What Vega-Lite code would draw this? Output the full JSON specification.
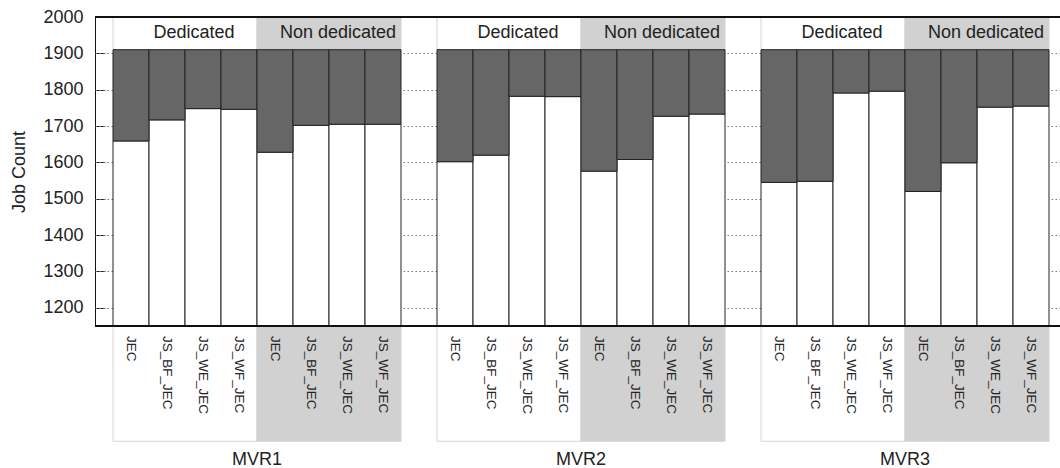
{
  "$schema": "https://vega.github.io/schema/vega-lite/v6.json",
  "padding": {"left": 10, "top": 8, "right": 0, "bottom": 0},
  "bounds": "flush",
  "background": "white",
  "data": {
    "values": [
      {"mvr": "MVR1", "type": "Dedicated", "algo": "JEC", "completed": 1659, "submitted": 1910},
      {"mvr": "MVR1", "type": "Dedicated", "algo": "JS_BF_JEC", "completed": 1717, "submitted": 1910},
      {"mvr": "MVR1", "type": "Dedicated", "algo": "JS_WE_JEC", "completed": 1748, "submitted": 1910},
      {"mvr": "MVR1", "type": "Dedicated", "algo": "JS_WF_JEC", "completed": 1746, "submitted": 1910},
      {"mvr": "MVR1", "type": "Non dedicated", "algo": "JEC", "completed": 1628, "submitted": 1910},
      {"mvr": "MVR1", "type": "Non dedicated", "algo": "JS_BF_JEC", "completed": 1702, "submitted": 1910},
      {"mvr": "MVR1", "type": "Non dedicated", "algo": "JS_WE_JEC", "completed": 1705, "submitted": 1910},
      {"mvr": "MVR1", "type": "Non dedicated", "algo": "JS_WF_JEC", "completed": 1705, "submitted": 1910},
      {"mvr": "MVR2", "type": "Dedicated", "algo": "JEC", "completed": 1602, "submitted": 1910},
      {"mvr": "MVR2", "type": "Dedicated", "algo": "JS_BF_JEC", "completed": 1620, "submitted": 1910},
      {"mvr": "MVR2", "type": "Dedicated", "algo": "JS_WE_JEC", "completed": 1782, "submitted": 1910},
      {"mvr": "MVR2", "type": "Dedicated", "algo": "JS_WF_JEC", "completed": 1781, "submitted": 1910},
      {"mvr": "MVR2", "type": "Non dedicated", "algo": "JEC", "completed": 1576, "submitted": 1910},
      {"mvr": "MVR2", "type": "Non dedicated", "algo": "JS_BF_JEC", "completed": 1608, "submitted": 1910},
      {"mvr": "MVR2", "type": "Non dedicated", "algo": "JS_WE_JEC", "completed": 1727, "submitted": 1910},
      {"mvr": "MVR2", "type": "Non dedicated", "algo": "JS_WF_JEC", "completed": 1733, "submitted": 1910},
      {"mvr": "MVR3", "type": "Dedicated", "algo": "JEC", "completed": 1545, "submitted": 1910},
      {"mvr": "MVR3", "type": "Dedicated", "algo": "JS_BF_JEC", "completed": 1548, "submitted": 1910},
      {"mvr": "MVR3", "type": "Dedicated", "algo": "JS_WE_JEC", "completed": 1791, "submitted": 1910},
      {"mvr": "MVR3", "type": "Dedicated", "algo": "JS_WF_JEC", "completed": 1796, "submitted": 1910},
      {"mvr": "MVR3", "type": "Non dedicated", "algo": "JEC", "completed": 1520, "submitted": 1910},
      {"mvr": "MVR3", "type": "Non dedicated", "algo": "JS_BF_JEC", "completed": 1599, "submitted": 1910},
      {"mvr": "MVR3", "type": "Non dedicated", "algo": "JS_WE_JEC", "completed": 1752, "submitted": 1910},
      {"mvr": "MVR3", "type": "Non dedicated", "algo": "JS_WF_JEC", "completed": 1755, "submitted": 1910}
    ]
  },
  "facet": {
    "column": {
      "field": "mvr",
      "type": "nominal",
      "header": {
        "title": null,
        "labelOrient": "bottom",
        "labelFont": "Liberation Sans",
        "labelFontSize": 18,
        "labelColor": "#222222",
        "labelPadding": 125
      }
    }
  },
  "spacing": 0,
  "spec": {
    "width": 324,
    "height": 309,
    "layer": [
      {
        "description": "Shaded strip above the bars naming the machine type",
        "transform": [{"aggregate": [{"op": "count", "as": "n"}], "groupby": ["type"]}],
        "mark": {"type": "bar", "strokeWidth": 1},
        "encoding": {
          "x": {"field": "type", "type": "nominal", "sort": ["Dedicated", "Non dedicated"], "scale": {"type": "band", "paddingInner": 0, "paddingOuter": 0.125}, "axis": null},
          "y": {"datum": 1910, "scale": {"domain": [1150, 2000], "zero": false, "nice": false}},
          "y2": {"datum": 2000},
          "fill": {"field": "type", "type": "nominal", "scale": {"domain": ["Dedicated", "Non dedicated"], "range": ["#ffffff", "#d0d1d0"]}, "legend": null},
          "stroke": {"field": "type", "type": "nominal", "scale": {"domain": ["Dedicated", "Non dedicated"], "range": ["#d6d6d6", "#d0d1d0"]}, "legend": null}
        }
      },
      {
        "description": "Shaded strip below the axis behind the scheduler labels",
        "transform": [{"aggregate": [{"op": "count", "as": "n"}], "groupby": ["type"]}],
        "mark": {"type": "bar", "strokeWidth": 1},
        "encoding": {
          "x": {"field": "type", "type": "nominal", "sort": ["Dedicated", "Non dedicated"], "scale": {"type": "band", "paddingInner": 0, "paddingOuter": 0.125}, "axis": null},
          "y": {"datum": 1150},
          "y2": {"datum": 833},
          "fill": {"field": "type", "type": "nominal", "scale": {"domain": ["Dedicated", "Non dedicated"], "range": ["#ffffff", "#d0d1d0"]}, "legend": null},
          "stroke": {"field": "type", "type": "nominal", "scale": {"domain": ["Dedicated", "Non dedicated"], "range": ["#d6d6d6", "#d0d1d0"]}, "legend": null}
        }
      },
      {
        "description": "Completed jobs",
        "mark": {"type": "bar", "fill": "#ffffff", "stroke": "#222222", "strokeWidth": 1},
        "encoding": {
          "x": {"field": "type", "type": "nominal", "sort": ["Dedicated", "Non dedicated"], "scale": {"type": "band", "paddingInner": 0, "paddingOuter": 0.125}, "axis": null},
          "xOffset": {"field": "algo", "type": "nominal", "scale": {"paddingInner": 0, "paddingOuter": 0}},
          "y": {"field": "completed", "type": "quantitative", "title": "Job Count", "scale": {"domain": [1150, 2000], "zero": false, "nice": false}},
          "y2": {"datum": 1150}
        }
      },
      {
        "description": "Jobs submitted but not completed",
        "mark": {"type": "bar", "fill": "#666666", "stroke": "#222222", "strokeWidth": 1},
        "encoding": {
          "x": {"field": "type", "type": "nominal", "sort": ["Dedicated", "Non dedicated"], "scale": {"type": "band", "paddingInner": 0, "paddingOuter": 0.125}, "axis": null},
          "xOffset": {"field": "algo", "type": "nominal", "scale": {"paddingInner": 0, "paddingOuter": 0}},
          "y": {"field": "completed", "type": "quantitative", "title": "Job Count"},
          "y2": {"field": "submitted"}
        }
      },
      {
        "description": "Top edge of the frame",
        "mark": {"type": "rule", "color": "#111111", "strokeWidth": 2},
        "encoding": {"y": {"datum": 2000}}
      },
      {
        "description": "Bottom edge of the frame",
        "mark": {"type": "rule", "color": "#111111", "strokeWidth": 1.3},
        "encoding": {"y": {"datum": 1150}}
      },
      {
        "description": "Machine type names",
        "transform": [{"aggregate": [{"op": "count", "as": "n"}], "groupby": ["type"]}],
        "mark": {"type": "text", "font": "Liberation Sans", "fontSize": 18, "color": "#222222", "baseline": "middle", "dx": 9},
        "encoding": {
          "x": {"field": "type", "type": "nominal", "sort": ["Dedicated", "Non dedicated"], "scale": {"type": "band", "paddingInner": 0, "paddingOuter": 0.125}, "axis": null},
          "y": {"datum": 1956},
          "text": {"field": "type"}
        }
      },
      {
        "description": "Scheduler names under each bar",
        "mark": {"type": "text", "font": "Liberation Sans", "fontSize": 13.5, "color": "#222222", "angle": 90, "align": "left", "baseline": "middle", "dx": 10},
        "encoding": {
          "x": {"field": "type", "type": "nominal", "sort": ["Dedicated", "Non dedicated"], "scale": {"type": "band", "paddingInner": 0, "paddingOuter": 0.125}, "axis": null},
          "xOffset": {"field": "algo", "type": "nominal", "scale": {"paddingInner": 0, "paddingOuter": 0}},
          "y": {"datum": 1150},
          "text": {"field": "algo"}
        }
      }
    ]
  },
  "config": {
    "view": {"stroke": null},
    "font": "Liberation Sans",
    "axisY": {
      "values": [1200, 1300, 1400, 1500, 1600, 1700, 1800, 1900, 2000],
      "format": "d",
      "labelOverlap": false,
      "labelFont": "Liberation Sans",
      "labelFontSize": 18,
      "labelColor": "#222222",
      "labelPadding": 22,
      "tickSize": -10,
      "tickColor": "#222222",
      "domainColor": "#111111",
      "titleFont": "Liberation Sans",
      "titleFontSize": 18,
      "titleFontWeight": "normal",
      "titleColor": "#222222",
      "titlePadding": 14,
      "grid": true,
      "gridColor": "#777777",
      "gridDash": [1.5, 2.5],
      "gridWidth": 1
    }
  }
}
